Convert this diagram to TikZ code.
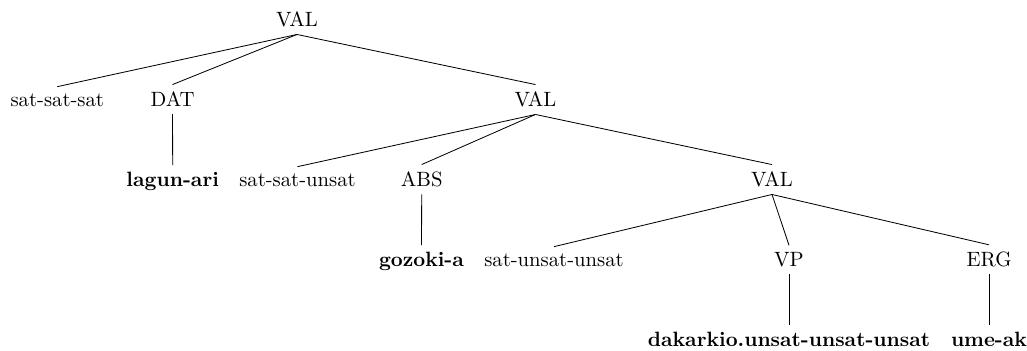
\documentclass[tikz,border=0pt]{standalone}
\begin{document}
\begin{tikzpicture}[x=0.4831pt, y=-0.4831pt,
    lab/.style={anchor=base, inner sep=0.3333em},
    leaf/.style={lab, font=\bfseries},
    edge/.style={line width=0.4pt}]
\path[use as bounding box] (0,0) rectangle (1027,350);

% level 0
\node[lab] (v1) at (297,26.7) {VAL};
% level 1
\node[lab] (s1) at (57.3,106.7) {sat-sat-sat};
\node[lab] (dat) at (172.5,106.7) {DAT};
\node[lab] (v2) at (535.5,106.7) {VAL};
% level 2
\node[leaf] (lag) at (172.7,186.7) {lagun-ari};
\node[lab] (s2) at (297.5,186.7) {sat-sat-unsat};
\node[lab] (abs) at (421.7,186.7) {ABS};
\node[lab] (v3) at (772,186.7) {VAL};
% level 3
\node[leaf] (goz) at (421.5,266.7) {gozoki-a};
\node[lab] (s3) at (554,266.7) {sat-unsat-unsat};
\node[lab] (vp) at (789,266.7) {VP};
\node[lab] (erg) at (989,266.7) {ERG};
% level 4
\node[leaf] (dak) at (789,346.7) {dakarkio.unsat-unsat-unsat};
\node[leaf] (ume) at (989,346.7) {ume-ak};

% branches
\draw[edge] (v1.south) -- (s1.north);
\draw[edge] (v1.south) -- (dat.north);
\draw[edge] (v1.south) -- (v2.north);
\draw[edge] (dat.south) -- (lag.north);
\draw[edge] (v2.south) -- (s2.north);
\draw[edge] (v2.south) -- (abs.north);
\draw[edge] (v2.south) -- (v3.north);
\draw[edge] (abs.south) -- (goz.north);
\draw[edge] (v3.south) -- (s3.north);
\draw[edge] (v3.south) -- (vp.north);
\draw[edge] (v3.south) -- (erg.north);
\draw[edge] (vp.south) -- (dak.north);
\draw[edge] (erg.south) -- (ume.north);
\end{tikzpicture}
\end{document}
